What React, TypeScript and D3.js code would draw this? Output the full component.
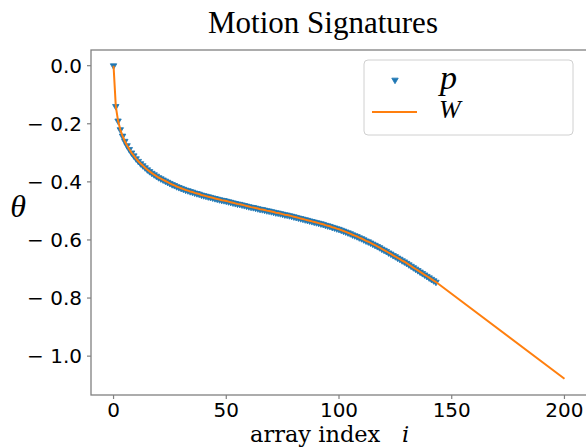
import React from "react";
import * as d3 from "d3";

// p: sampled signature (indices 0..143)
const pValues = [
  0.0, -0.14, -0.19, -0.22, -0.242, -0.26, -0.275, -0.288, -0.3, -0.31,
  -0.32, -0.329, -0.337, -0.344, -0.351, -0.358, -0.364, -0.37, -0.375, -0.38,
  -0.385, -0.389, -0.393, -0.397, -0.401, -0.405, -0.409, -0.412, -0.416, -0.419,
  -0.422, -0.425, -0.428, -0.43, -0.433, -0.435, -0.438, -0.44, -0.442, -0.445,
  -0.447, -0.449, -0.451, -0.453, -0.455, -0.457, -0.459, -0.461, -0.463, -0.464,
  -0.466, -0.468, -0.47, -0.472, -0.474, -0.476, -0.477, -0.479, -0.481, -0.483,
  -0.485, -0.487, -0.488, -0.49, -0.492, -0.494, -0.495, -0.497, -0.499, -0.5,
  -0.502, -0.504, -0.506, -0.507, -0.509, -0.511, -0.513, -0.514, -0.516, -0.518,
  -0.52, -0.522, -0.524, -0.526, -0.528, -0.53, -0.532, -0.534, -0.536, -0.538,
  -0.54, -0.542, -0.544, -0.546, -0.549, -0.551, -0.553, -0.556, -0.558, -0.561,
  -0.563, -0.566, -0.569, -0.572, -0.575, -0.578, -0.582, -0.585, -0.588, -0.592,
  -0.595, -0.599, -0.603, -0.606, -0.61, -0.614, -0.618, -0.622, -0.626, -0.631,
  -0.635, -0.639, -0.644, -0.648, -0.653, -0.657, -0.662, -0.666, -0.671, -0.675,
  -0.68, -0.685, -0.69, -0.695, -0.7, -0.705, -0.71, -0.715, -0.72, -0.725,
  -0.73, -0.735, -0.74, -0.745,
];

// W follows p and then continues to index 200
const wExtraIndex = [200];
const wExtraValues = [-1.078];

const xTicks = [0, 50, 100, 150, 200];
const yTicks = [0.0, -0.2, -0.4, -0.6, -0.8, -1.0];

const W = 586;
const H = 448;
const frame = { left: 91, right: 587, top: 50, bottom: 395 };

const BLUE = "#1f77b4";
const ORANGE = "#ff7f0e";
const AXIS = "#808080";

export default function App() {
  const x = d3.scaleLinear().domain([-10, 210]).range([frame.left, frame.right]);
  const y = d3.scaleLinear().domain([-1.1338, 0.054]).range([frame.bottom, frame.top]);

  const pPoints = pValues.map((v, i) => [i, v] as [number, number]);
  const wPoints = pPoints.concat(
    wExtraIndex.map((i, k) => [i, wExtraValues[k]] as [number, number])
  );

  const line = d3
    .line<[number, number]>()
    .x((d) => x(d[0]))
    .y((d) => y(d[1]));

  const tri = d3.symbol().type(d3.symbolTriangle).size(18)();

  const fmtY = (v: number) => (v < 0 ? "\u2212 " + Math.abs(v).toFixed(1) : v.toFixed(1));

  return (
    <svg
      width={W}
      height={H}
      style={{ position: "absolute", left: 0, top: 0, background: "#fff" }}
    >
      <rect width={W} height={H} fill="#fff" />
      <text
        x={323}
        y={33}
        textAnchor="middle"
        fontFamily="Liberation Serif"
        fontSize={31}
        fill="#000"
      >
        Motion Signatures
      </text>

      <defs>
        <clipPath id="plotclip">
          <rect
            x={frame.left}
            y={frame.top}
            width={frame.right - frame.left}
            height={frame.bottom - frame.top}
          />
        </clipPath>
      </defs>
      <g clipPath="url(#plotclip)">
        {pPoints.map((d, i) => (
          <path
            key={i}
            d={tri}
            transform={`translate(${x(d[0])},${y(d[1])}) rotate(180)`}
            fill={BLUE}
            stroke={BLUE}
            strokeWidth={0.8}
          />
        ))}
        <path d={line(wPoints) || ""} fill="none" stroke={ORANGE} strokeWidth={2} />
      </g>

      <rect
        x={frame.left}
        y={frame.top}
        width={frame.right - frame.left}
        height={frame.bottom - frame.top}
        fill="none"
        stroke={AXIS}
        strokeWidth={1.3}
      />

      {yTicks.map((t) => (
        <g key={t} transform={`translate(0,${y(t)})`}>
          <line x1={frame.left - 4} x2={frame.left} stroke={AXIS} strokeWidth={1.2} />
          <text
            x={frame.left - 9}
            dy="0.36em"
            textAnchor="end"
            fontFamily="DejaVu Sans"
            fontSize={20}
            fill="#000"
          >
            {fmtY(t)}
          </text>
        </g>
      ))}

      {xTicks.map((t) => (
        <g key={t} transform={`translate(${x(t)},0)`}>
          <line y1={frame.bottom} y2={frame.bottom + 4} stroke={AXIS} strokeWidth={1.2} />
          <text
            y={frame.bottom + 22}
            textAnchor="middle"
            fontFamily="DejaVu Sans"
            fontSize={20}
            fill="#000"
          >
            {t}
          </text>
        </g>
      ))}

      <text
        x={250}
        y={442}
        fontFamily="DejaVu Serif"
        fontSize={22.5}
        fill="#000"
      >
        array index
      </text>
      <text
        x={402}
        y={442}
        fontFamily="DejaVu Serif"
        fontStyle="italic"
        fontSize={22.5}
        fill="#000"
      >
        i
      </text>

      <text
        x={18}
        y={217}
        textAnchor="middle"
        fontFamily="Liberation Serif"
        fontStyle="italic"
        fontSize={32}
        fill="#000"
      >
        θ
      </text>

      <g>
        <rect
          x={364}
          y={60}
          width={209}
          height={75}
          rx={4}
          fill="#fff"
          fillOpacity={0.8}
          stroke="#d0d0d0"
          strokeWidth={1}
        />
        <path d={tri} transform="translate(395,80) rotate(180)" fill={BLUE} stroke={BLUE} strokeWidth={0.8} />
        <text
          x={440}
          y={89}
          fontFamily="Liberation Serif"
          fontStyle="italic"
          fontSize={34}
          fill="#000"
        >
          p
        </text>
        <line x1={372} x2={417} y1={112} y2={112} stroke={ORANGE} strokeWidth={2} />
        <text
          x={439}
          y={118}
          fontFamily="Liberation Serif"
          fontStyle="italic"
          fontSize={26}
          fill="#000"
        >
          W
        </text>
      </g>
    </svg>
  );
}
